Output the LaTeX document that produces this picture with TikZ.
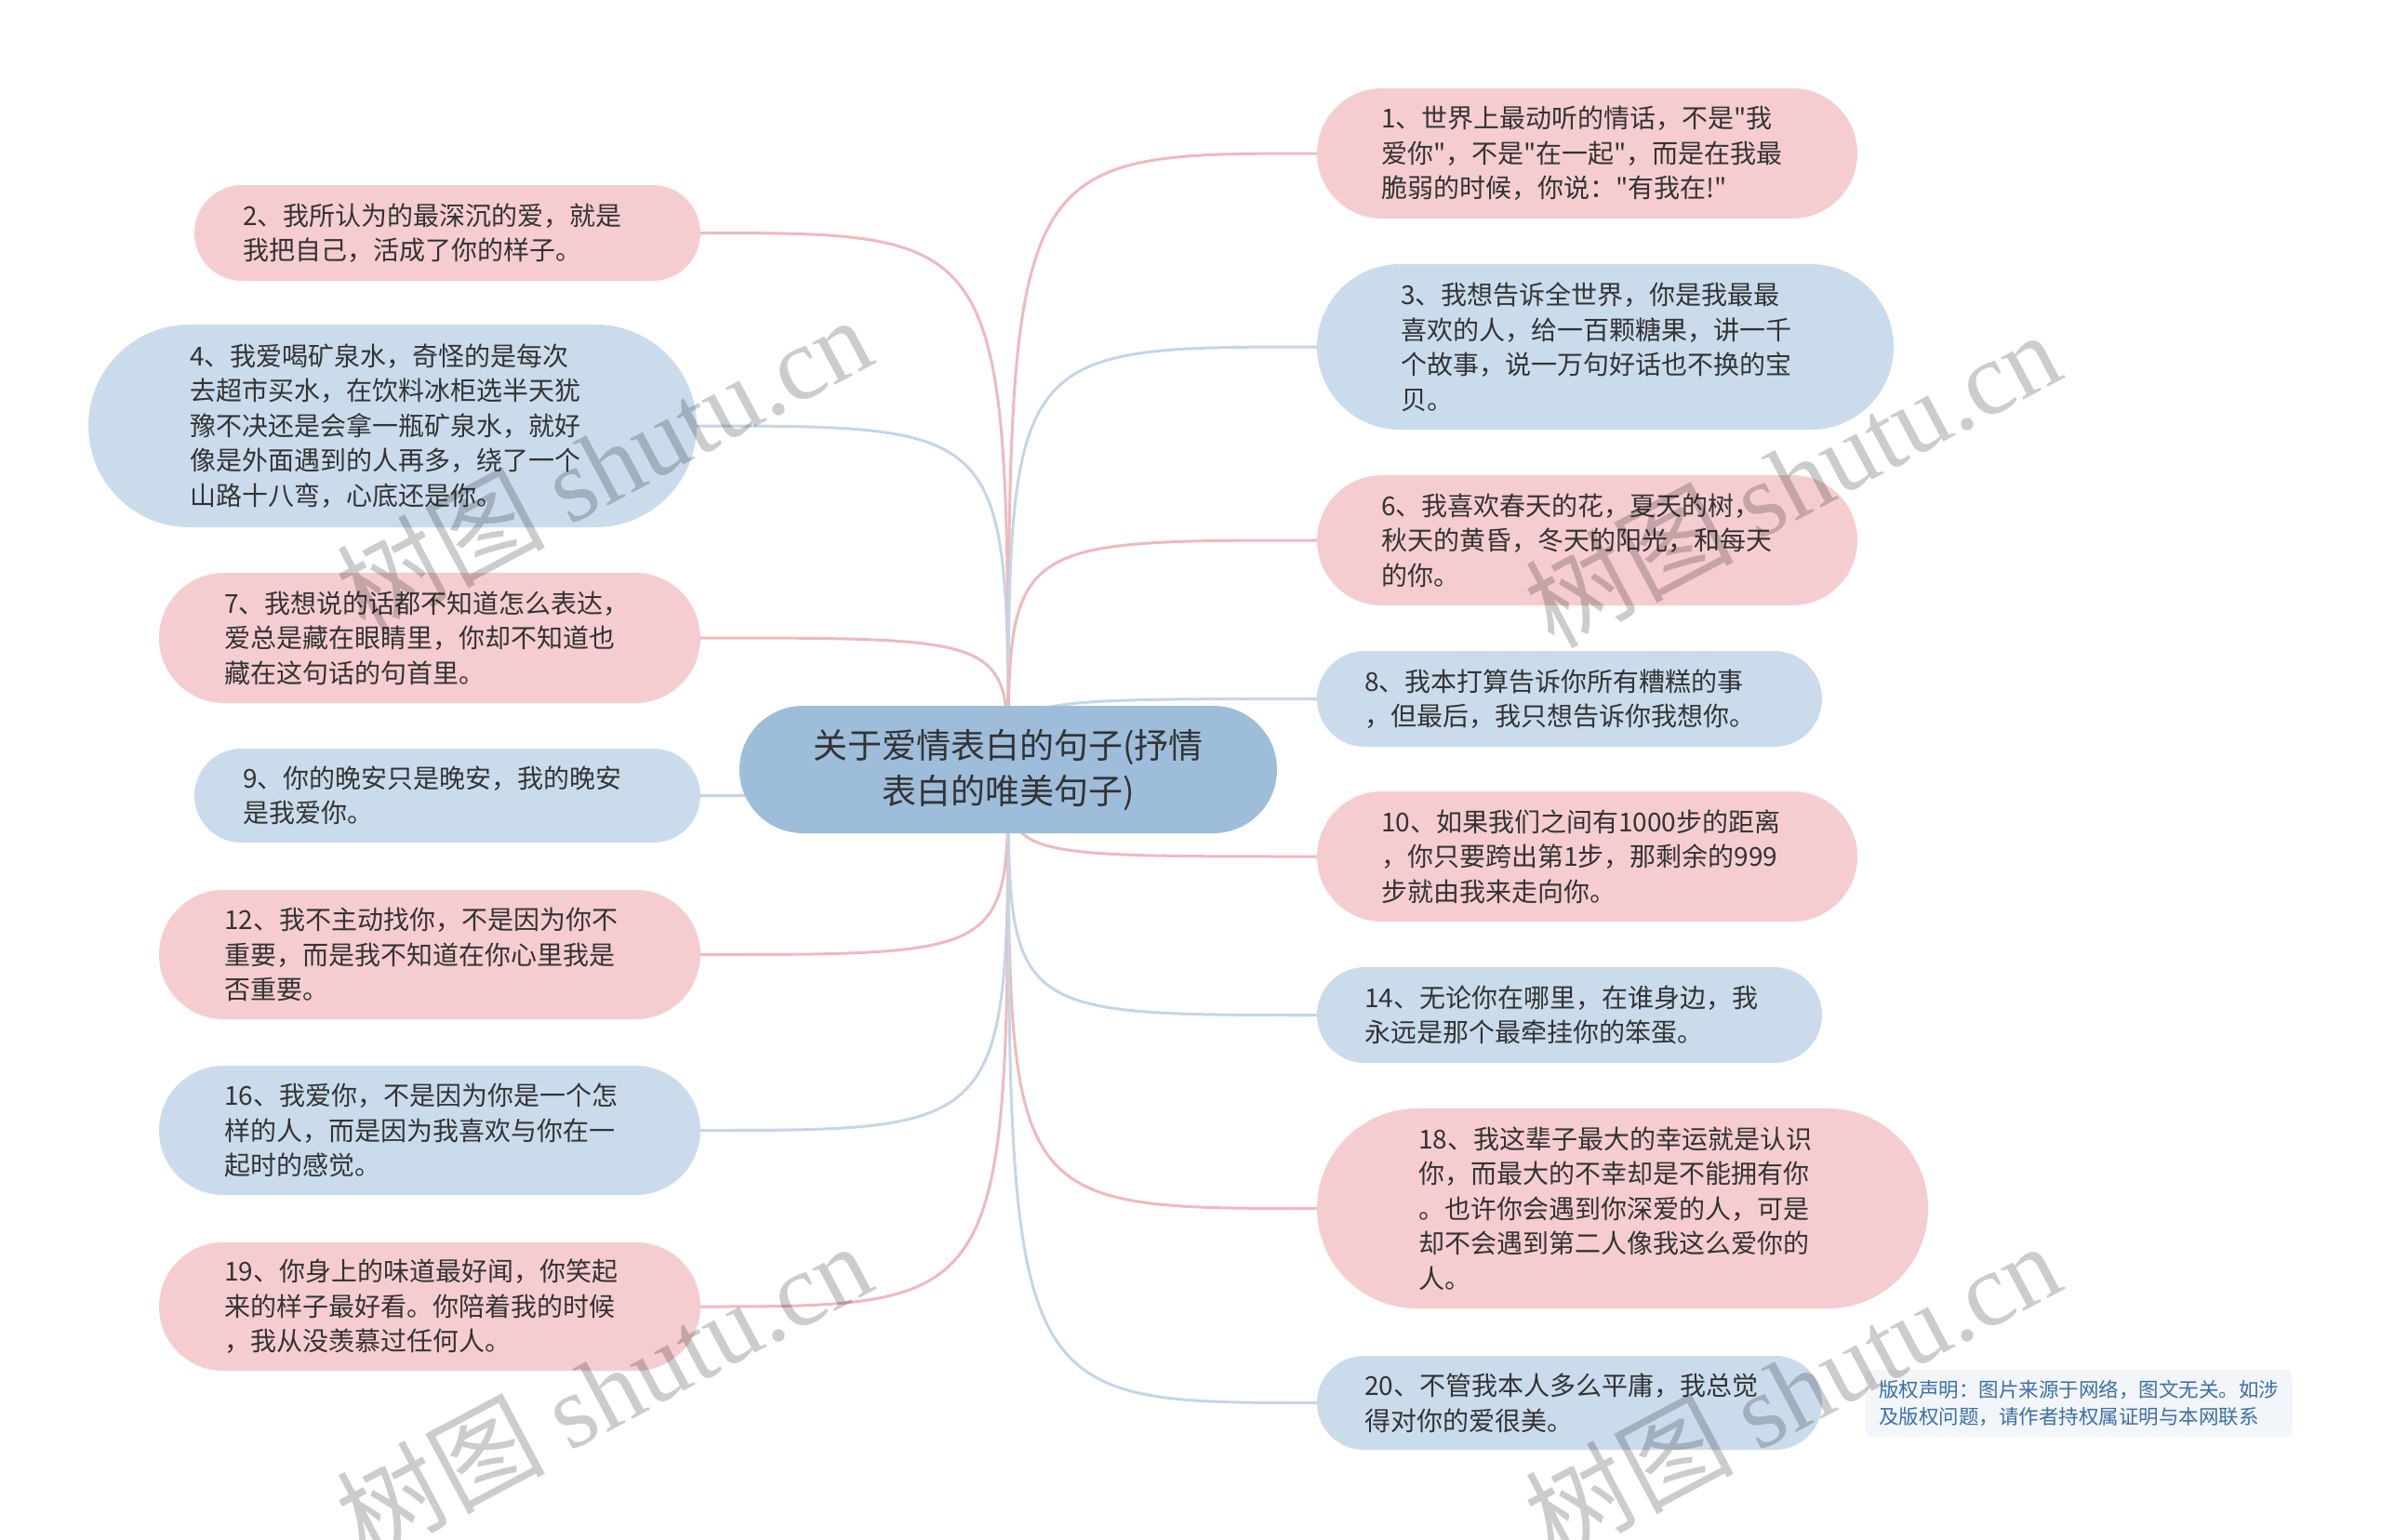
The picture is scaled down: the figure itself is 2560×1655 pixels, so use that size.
\documentclass[tikz,border=0pt]{standalone}
\usepackage{fontspec}
\setmainfont{Noto Sans CJK SC}[Ligatures=TeXOff]
\newfontfamily\wmserif{Liberation Serif}
\usetikzlibrary{backgrounds}

\definecolor{pinkfill}{HTML}{F5CDD0}
\definecolor{bluefill}{HTML}{CADCEC}
\definecolor{rootfill}{HTML}{9DBDDA}
\definecolor{pinkline}{HTML}{F0B9BD}
\definecolor{blueline}{HTML}{C3D6E8}
\definecolor{textgray}{HTML}{333333}
\definecolor{notefill}{HTML}{F2F6FB}
\definecolor{notetext}{HTML}{3D6FA8}

\tikzset{
  leaf/.style={align=left, inner ysep=0pt, text=textgray,
    font=\fontsize{28}{37.5}\selectfont},
  pinkleaf/.style={leaf, fill=pinkfill},
  blueleaf/.style={leaf, fill=bluefill},
  boxsize/.code n args={3}{\pgfmathsetmacro\boxtw{#1-2*#3}%
    \tikzset{minimum width=#1, minimum height=#2, rounded corners=#2/2,
      inner xsep=#3, text width=\boxtw pt}},
  pinkedge/.style={draw=pinkline, line width=3},
  blueedge/.style={draw=blueline, line width=3},
  watermark/.style={text=black, opacity=0.2, rotate=28,
    font=\fontsize{112}{112}\selectfont}
}

\begin{document}
\begin{tikzpicture}[x=1pt, y=-1pt]
 \useasboundingbox (0,0) rectangle (2560,1655);

 % root
 \node[fill=rootfill, minimum width=578, minimum height=137, rounded corners=68.5,
   align=center, inner sep=0pt, text=textgray,
   font=\fontsize{37}{49}\selectfont] (root) at (1084,827.5)
   {关于爱情表白的句子(抒情\\表白的唯美句子)};

 % left column
 \node[pinkleaf, boxsize={544}{103}{52}] (n2) at (481,250.5)
   {2、我所认为的最深沉的爱，就是\\我把自己，活成了你的样子。};
 \node[blueleaf, boxsize={654}{218}{109}] (n4) at (422,458)
   {4、我爱喝矿泉水，奇怪的是每次\\去超市买水，在饮料冰柜选半天犹\\豫不决还是会拿一瓶矿泉水，就好\\像是外面遇到的人再多，绕了一个\\山路十八弯，心底还是你。};
 \node[pinkleaf, boxsize={582}{140}{70}] (n7) at (462,686)
   {7、我想说的话都不知道怎么表达，\\爱总是藏在眼睛里，你却不知道也\\藏在这句话的句首里。};
 \node[blueleaf, boxsize={544}{101}{52}] (n9) at (481,855.5)
   {9、你的晚安只是晚安，我的晚安\\是我爱你。};
 \node[pinkleaf, boxsize={582}{139}{70}] (n12) at (462,1026.5)
   {12、我不主动找你，不是因为你不\\重要，而是我不知道在你心里我是\\否重要。};
 \node[blueleaf, boxsize={582}{139}{70}] (n16) at (462,1215.5)
   {16、我爱你，不是因为你是一个怎\\样的人，而是因为我喜欢与你在一\\起时的感觉。};
 \node[pinkleaf, boxsize={582}{138}{70}] (n19) at (462,1405)
   {19、你身上的味道最好闻，你笑起\\来的样子最好看。你陪着我的时候\\，我从没羡慕过任何人。};

 % right column
 \node[pinkleaf, boxsize={581}{140}{69}] (n1) at (1706.5,165)
   {1、世界上最动听的情话，不是"我\\爱你"，不是"在一起"，而是在我最\\脆弱的时候，你说："有我在!"};
 \node[blueleaf, boxsize={620}{178}{90}] (n3) at (1726,373)
   {3、我想告诉全世界，你是我最最\\喜欢的人，给一百颗糖果，讲一千\\个故事，说一万句好话也不换的宝\\贝。};
 \node[pinkleaf, boxsize={581}{140}{69}] (n6) at (1706.5,581)
   {6、我喜欢春天的花，夏天的树，\\秋天的黄昏，冬天的阳光，和每天\\的你。};
 \node[blueleaf, boxsize={543}{103}{51}] (n8) at (1687.5,751.5)
   {8、我本打算告诉你所有糟糕的事\\，但最后，我只想告诉你我想你。};
 \node[pinkleaf, boxsize={581}{140}{69}] (n10) at (1706.5,921)
   {10、如果我们之间有1000步的距离\\，你只要跨出第1步，那剩余的999\\步就由我来走向你。};
 \node[blueleaf, boxsize={543}{103}{51}] (n14) at (1687.5,1091.5)
   {14、无论你在哪里，在谁身边，我\\永远是那个最牵挂你的笨蛋。};
 \node[pinkleaf, boxsize={657}{215}{109}] (n18) at (1744.5,1299.5)
   {18、我这辈子最大的幸运就是认识\\你，而最大的不幸却是不能拥有你\\。也许你会遇到你深爱的人，可是\\却不会遇到第二人像我这么爱你的\\人。};
 \node[blueleaf, boxsize={543}{101}{51}] (n20) at (1687.5,1508.5)
   {20、不管我本人多么平庸，我总觉\\得对你的爱很美。};

 % copyright note
 \node[fill=notefill, rounded corners=8, minimum width=460, minimum height=72,
   align=left, inner sep=0pt, text=notetext, font=\fontsize{21.5}{29}\selectfont]
   (note) at (2235,1509)
   {版权声明：图片来源于网络，图文无关。如涉\\及版权问题，请作者持权属证明与本网联系};

 % connectors
 \begin{pgfonlayer}{background}
  \fill[white] (0,0) rectangle (2560,1655);
  \draw[pinkedge] (root.center) .. controls (root.center |- n2.east) .. (n2.east);
  \draw[blueedge] (root.center) .. controls (root.center |- n4.east) .. (n4.east);
  \draw[pinkedge] (root.center) .. controls (root.center |- n7.east) .. (n7.east);
  \draw[blueedge] (root.center) .. controls (root.center |- n9.east) .. (n9.east);
  \draw[pinkedge] (root.center) .. controls (root.center |- n12.east) .. (n12.east);
  \draw[blueedge] (root.center) .. controls (root.center |- n16.east) .. (n16.east);
  \draw[pinkedge] (root.center) .. controls (root.center |- n19.east) .. (n19.east);
  \draw[pinkedge] (root.center) .. controls (root.center |- n1.west) .. (n1.west);
  \draw[blueedge] (root.center) .. controls (root.center |- n3.west) .. (n3.west);
  \draw[pinkedge] (root.center) .. controls (root.center |- n6.west) .. (n6.west);
  \draw[blueedge] (root.center) .. controls (root.center |- n8.west) .. (n8.west);
  \draw[pinkedge] (root.center) .. controls (root.center |- n10.west) .. (n10.west);
  \draw[blueedge] (root.center) .. controls (root.center |- n14.west) .. (n14.west);
  \draw[pinkedge] (root.center) .. controls (root.center |- n18.west) .. (n18.west);
  \draw[blueedge] (root.center) .. controls (root.center |- n20.west) .. (n20.west);
 \end{pgfonlayer}

 % watermarks
 \node[watermark] (wm1) at (649,498) {树图 {\wmserif shutu.cn}};
 \node[watermark] (wm2) at (1927,514) {树图 {\wmserif shutu.cn}};
 \node[watermark] (wm3) at (649,1494) {树图 {\wmserif shutu.cn}};
 \node[watermark] (wm4) at (1927,1494) {树图 {\wmserif shutu.cn}};
\end{tikzpicture}
\end{document}
